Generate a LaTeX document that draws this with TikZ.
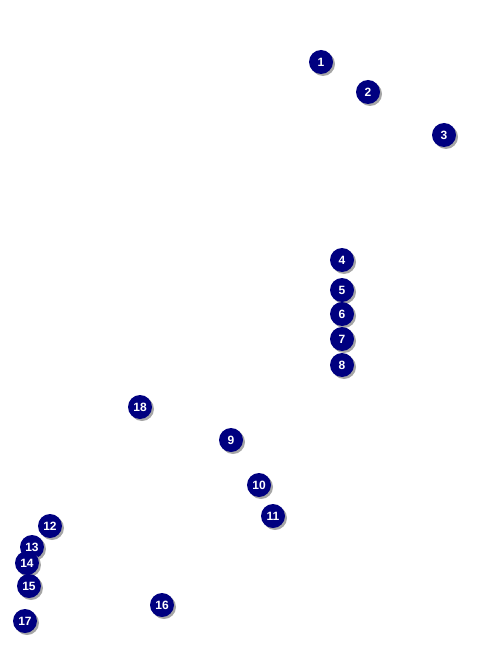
\documentclass[tikz,border=0pt]{standalone}
\usepackage{fontspec}
\setmainfont{Liberation Sans}
\begin{document}
\begin{tikzpicture}[x=1pt,y=-1pt,
  marker/.style={circle,fill={rgb,255:red,0;green,0;blue,128},minimum size=24pt,inner sep=0pt,
    text=white,font=\bfseries\fontsize{12}{12}\selectfont,
    preaction={fill=black!35,transform canvas={shift={(2pt,-2pt)}}}}]
\useasboundingbox (0,0) rectangle (476,647);
\node[marker] (n1) at (321,62) {1};
\node[marker] (n2) at (368,92) {2};
\node[marker] (n3) at (444,135) {3};
\node[marker] (n4) at (342,260) {4};
\node[marker] (n5) at (342,290) {5};
\node[marker] (n6) at (342,314) {6};
\node[marker] (n7) at (342,339) {7};
\node[marker] (n8) at (342,365) {8};
\node[marker] (n18) at (140,407) {18};
\node[marker] (n9) at (231,440) {9};
\node[marker] (n10) at (259,485) {10};
\node[marker] (n11) at (273,516) {11};
\node[marker] (n12) at (50,526) {12};
\node[marker] (n13) at (32,547) {13};
\node[marker] (n14) at (27,563) {14};
\node[marker] (n15) at (29,586) {15};
\node[marker] (n16) at (162,605) {16};
\node[marker] (n17) at (25,621) {17};
\end{tikzpicture}
\end{document}
